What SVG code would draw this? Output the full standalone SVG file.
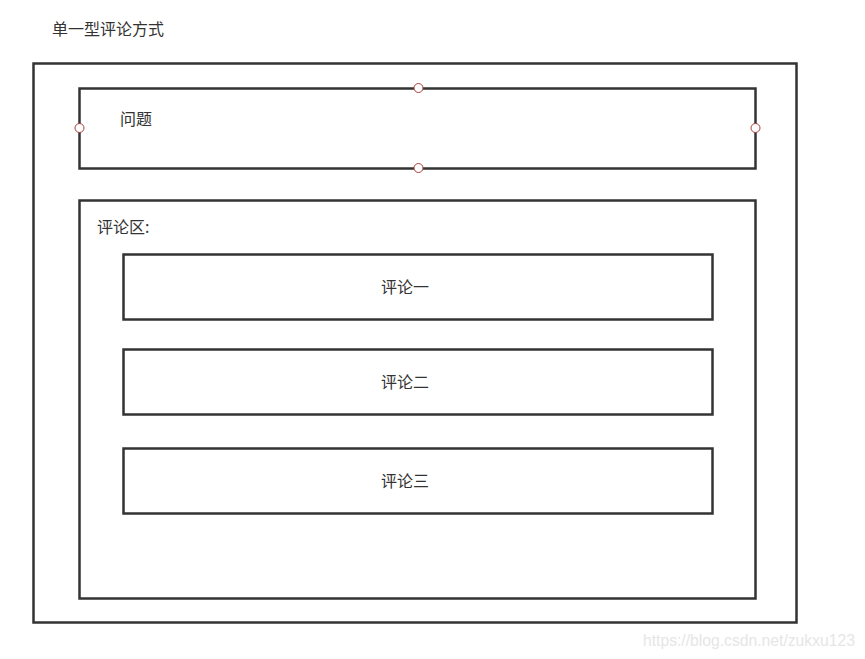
<svg xmlns="http://www.w3.org/2000/svg" width="865" height="659" viewBox="0 0 865 659">
<style>
.box{fill:none;stroke:#333333;stroke-width:2.5}
.t{font-family:"Noto Sans CJK SC","Liberation Sans",sans-serif;font-size:16px;fill:#333333}
.c{text-anchor:middle}
.pt{fill:#ffffff;stroke:#a5403a;stroke-width:1}
.wm{font-family:"Liberation Sans",Arial,sans-serif;font-size:15.7px;fill:#e6e6e6}
</style>
<rect width="865" height="659" fill="#ffffff"/>
<text class="t" x="52" y="35">单一型评论方式</text>
<g id="outer"><rect class="box" x="33.5" y="63.5" width="763" height="559"/></g>
<g id="question">
<rect class="box" x="79.5" y="88.5" width="676" height="80"/>
<text class="t" x="120" y="125">问题</text>
</g>
<g id="comment-area">
<rect class="box" x="79.5" y="200.5" width="676" height="398"/>
<text class="t" x="97" y="233">评论区:</text>
</g>
<g id="comment1">
<rect class="box" x="123.5" y="254.5" width="589" height="65"/>
<text class="t c" x="405" y="293">评论一</text>
</g>
<g id="comment2">
<rect class="box" x="123.5" y="349.5" width="589" height="65"/>
<text class="t c" x="405" y="388">评论二</text>
</g>
<g id="comment3">
<rect class="box" x="123.5" y="448.5" width="589" height="65"/>
<text class="t c" x="405" y="487">评论三</text>
</g>
<g id="connectors"></g>
<g id="anchors">
<circle class="pt" cx="418.5" cy="88" r="4.5"/>
<circle class="pt" cx="418.5" cy="168" r="4.5"/>
<circle class="pt" cx="79.5" cy="128" r="4.5"/>
<circle class="pt" cx="755.5" cy="128" r="4.5"/>
</g>
<text class="wm" x="643" y="646">https://blog.csdn.net/zukxu123</text>
</svg>
